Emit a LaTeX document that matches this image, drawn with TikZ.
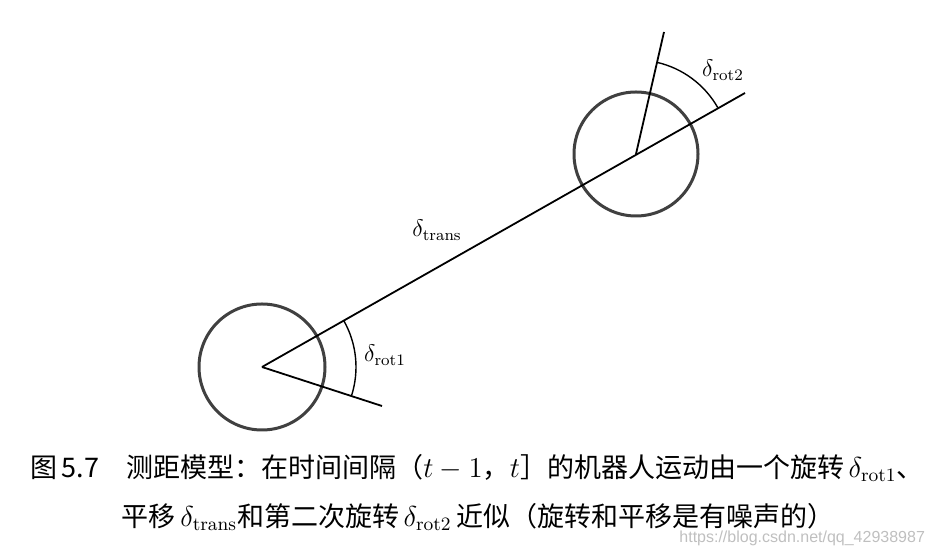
\documentclass[tikz,border=0pt]{standalone}
\usepackage{fontspec}
\newfontfamily\cjk{Noto Sans CJK SC}
\newfontfamily\urlfont{Liberation Sans}
\usetikzlibrary{positioning}

\begin{document}
\begin{tikzpicture}[x=0.5pt,y=0.5pt,
  robot/.style={line width=1.5pt,black!75},
  path/.style={line width=0.9pt},
  angle/.style={line width=0.7pt},
  sym/.style={font=\fontsize{12}{14}\selectfont},
  caption/.style={font=\cjk\fontsize{13.5}{15}\selectfont,inner sep=0pt}]
\useasboundingbox (0,0) rectangle (943,556);
\coordinate (c1) at (262,189);
\coordinate (c2) at (636,402);
\coordinate (e1) at (382,150);
\coordinate (e2) at (745,463);
\coordinate (h2) at (664,524);
\draw[robot] (c1) circle[radius=63];
\draw[robot] (c2) circle[radius=62];
\draw[path] (c1) -- (e2);
\draw[path] (c1) -- (e1);
\draw[path] (c2) -- (h2);
\draw[angle] ([shift={(-18:94)}]c1) arc[start angle=-18,end angle=29.6,radius=94];
\draw[angle] ([shift={(29.6:94)}]c2) arc[start angle=29.6,end angle=77.1,radius=94];
\node[sym] (lrot1) at (385,201) {$\delta_{\mathrm{rot1}}$};
\node[sym] (lrot2) at (723,486) {$\delta_{\mathrm{rot2}}$};
\node[sym] (ltrans) at (437,326) {$\delta_{\mathrm{trans}}$};
\node[caption] (cap1) at (477,88)
  {图\,5.7\hspace{1em}测距模型：在时间间隔（$t-1$，$t$］的机器人运动由一个旋转\,$\delta_{\mathrm{rot1}}$、};
\node[caption] (cap2) at (478,39)
  {平移\,$\delta_{\mathrm{trans}}$和第二次旋转\,$\delta_{\mathrm{rot2}}$\,近似（旋转和平移是有噪声的）};
\node[font=\urlfont\fontsize{8}{9}\selectfont,black!25,anchor=east] (wm) at (932,18)
  {https://blog.csdn.net/qq\_42938987};
\end{tikzpicture}
\end{document}
